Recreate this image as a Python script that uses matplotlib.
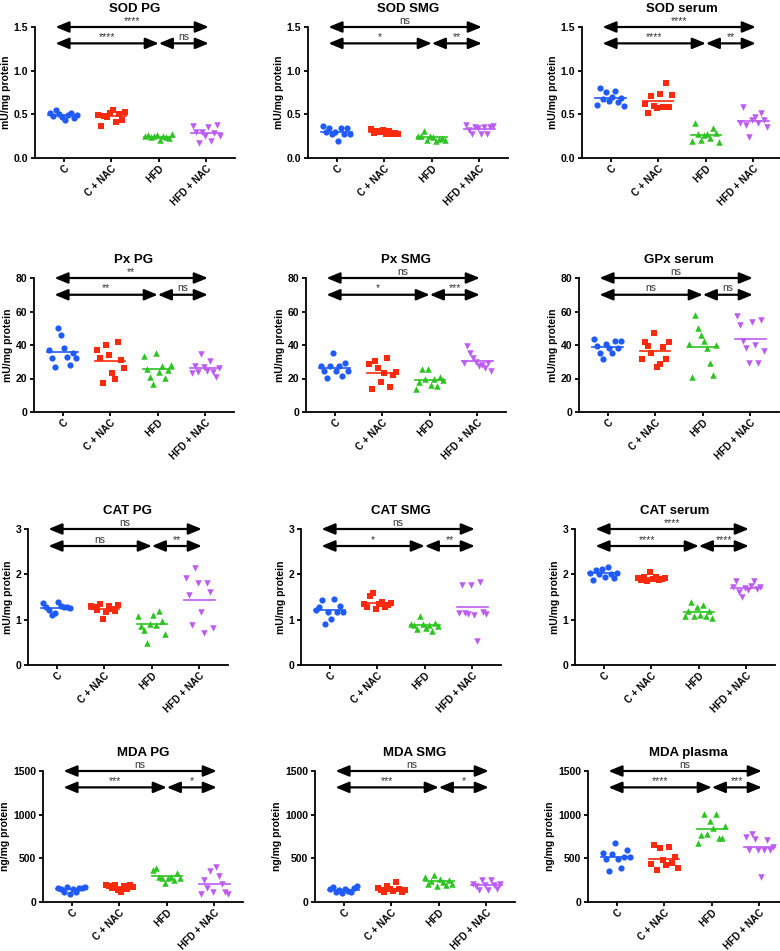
import numpy as np
import matplotlib
matplotlib.use('Agg')
import matplotlib.pyplot as plt

plt.rcParams['font.family'] = ['Liberation Sans', 'DejaVu Sans']

groups = ['C', 'C + NAC', 'HFD', 'HFD + NAC']
colors = ['#1f5bfb', '#fb2a0c', '#2ec422', '#bd5cf2']
markers = ['o', 's', '^', 'v']
msize = [20, 18, 22, 22]

# panel titles, y labels, y limits / ticks
titles = ['SOD PG', 'SOD SMG', 'SOD serum',
          'Px PG', 'Px SMG', 'GPx serum',
          'CAT PG', 'CAT SMG', 'CAT serum',
          'MDA PG', 'MDA SMG', 'MDA plasma']
ylab_row = ['mU/mg protein', 'mU/mg protein', 'mU/mg protein', 'ng/mg protein']
ymax_row = [1.5, 80, 3, 1500]
yticks_row = [[0.0, 0.5, 1.0, 1.5], [0, 20, 40, 60, 80], [0, 1, 2, 3], [0, 500, 1000, 1500]]
yfmt_row = ['{:.1f}', '{:.0f}', '{:.0f}', '{:.0f}']

# significance: [top (C vs HFD+NAC), C vs HFD, HFD vs HFD+NAC]
sig = [['****', '****', 'ns'], ['ns', '*', '**'], ['****', '****', '**'],
       ['**', '**', 'ns'], ['ns', '*', '***'], ['ns', 'ns', 'ns'],
       ['ns', 'ns', '**'], ['ns', '*', '**'], ['****', '****', '****'],
       ['ns', '***', '*'], ['ns', '***', '*'], ['ns', '****', '***']]

# values per panel, per group
sod_pg = [[0.52, 0.48, 0.55, 0.50, 0.47, 0.44, 0.49, 0.51, 0.46, 0.49],
          [0.49, 0.37, 0.48, 0.47, 0.52, 0.55, 0.41, 0.50, 0.44, 0.53],
          [0.25, 0.26, 0.24, 0.25, 0.26, 0.21, 0.25, 0.24, 0.23, 0.27],
          [0.37, 0.30, 0.17, 0.30, 0.25, 0.36, 0.20, 0.29, 0.38, 0.25]]
sod_smg = [[0.37, 0.30, 0.34, 0.27, 0.30, 0.19, 0.34, 0.27, 0.34, 0.28],
           [0.33, 0.29, 0.31, 0.30, 0.32, 0.27, 0.31, 0.28, 0.29, 0.27],
           [0.25, 0.25, 0.31, 0.21, 0.25, 0.24, 0.19, 0.22, 0.23, 0.21],
           [0.38, 0.32, 0.27, 0.36, 0.34, 0.27, 0.35, 0.28, 0.36, 0.37]]
sod_serum = [[0.61, 0.80, 0.68, 0.76, 0.65, 0.70, 0.77, 0.64, 0.69, 0.59],
             [0.62, 0.51, 0.71, 0.59, 0.57, 0.73, 0.58, 0.86, 0.58, 0.72],
             [0.19, 0.40, 0.27, 0.21, 0.26, 0.28, 0.23, 0.34, 0.29, 0.18],
             [0.40, 0.58, 0.38, 0.24, 0.43, 0.47, 0.40, 0.52, 0.43, 0.36]]
px_pg = [[37, 32, 27, 50, 46, 38, 33, 28, 35, 32],
         [37, 32, 17.5, 40, 34, 23.5, 20, 42, 31, 26.5],
         [33.5, 25.5, 21, 17, 35.5, 24, 27.5, 20.5, 25, 28],
         [23, 27.5, 24, 34.5, 27, 24.5, 30.5, 24, 21, 26]]
px_smg = [[27.5, 24.5, 20.5, 27.5, 35.5, 24.5, 27.5, 21.5, 29.5, 24.5],
          [28.5, 13.5, 30.5, 26, 18, 23, 32.5, 15, 22, 24],
          [13.5, 18, 25.5, 19.5, 25.5, 16, 19.5, 15.5, 21, 19],
          [29.5, 39.5, 35.5, 32, 30, 27.5, 28, 26.5, 29, 24.5]]
gpx_serum = [[43.5, 39.5, 35.5, 31.5, 40.5, 38, 35.5, 42.5, 38, 42.5],
             [31.5, 42, 39.5, 35.5, 47, 27, 28.5, 39, 31.5, 41.5],
             [40.5, 21, 58, 50, 46, 42.5, 38.5, 29.5, 22, 40],
             [57.5, 52, 42.5, 38.5, 29, 53.5, 40, 29.5, 55, 36.5]]
cat_pg = [[1.36, 1.27, 1.22, 1.10, 1.14, 1.38, 1.31, 1.27, 1.29, 1.25],
          [1.30, 1.27, 1.22, 1.35, 1.01, 1.17, 1.30, 1.24, 1.20, 1.32],
          [1.08, 0.85, 0.78, 0.48, 0.90, 1.11, 0.89, 1.20, 0.98, 0.68],
          [1.92, 1.55, 0.88, 2.14, 1.80, 1.18, 0.70, 1.80, 1.60, 0.81]]
cat_smg = [[1.22, 1.27, 1.44, 0.91, 1.16, 1.01, 1.45, 1.18, 1.30, 1.17],
           [1.35, 1.28, 1.52, 1.58, 1.23, 1.35, 1.40, 1.28, 1.32, 1.37],
           [0.90, 0.88, 0.80, 1.08, 0.90, 0.82, 0.88, 0.76, 0.92, 0.86],
           [1.14, 1.77, 1.14, 1.13, 1.77, 1.10, 0.52, 1.84, 1.16, 1.12]]
cat_serum = [[2.02, 1.88, 2.10, 2.00, 2.12, 1.95, 2.17, 2.00, 1.93, 2.03],
             [1.92, 1.88, 1.95, 1.85, 2.05, 1.90, 1.95, 1.88, 1.90, 1.92],
             [1.08, 1.20, 1.38, 1.07, 1.27, 1.10, 1.33, 1.08, 1.20, 1.03],
             [1.72, 1.85, 1.62, 1.50, 1.70, 1.65, 1.75, 1.85, 1.68, 1.72]]
mda_pg = [[165, 150, 120, 172, 90, 150, 110, 165, 160, 172],
          [190, 180, 160, 200, 140, 110, 180, 150, 200, 175],
          [370, 385, 290, 270, 220, 280, 290, 250, 330, 280],
          [95, 250, 160, 355, 115, 400, 295, 205, 115, 95]]
mda_smg = [[150, 170, 120, 140, 100, 150, 130, 110, 160, 180],
           [160, 140, 120, 180, 150, 130, 230, 150, 110, 140],
           [290, 210, 240, 310, 180, 260, 230, 200, 250, 210],
           [210, 180, 140, 250, 190, 140, 250, 200, 150, 210]]
mda_plasma = [[560, 495, 360, 550, 670, 495, 395, 510, 600, 510],
              [440, 655, 370, 615, 480, 420, 625, 450, 510, 390],
              [680, 770, 1010, 775, 930, 850, 1010, 730, 735, 870],
              [745, 590, 775, 725, 590, 290, 590, 715, 600, 625]]

panels = [sod_pg, sod_smg, sod_serum, px_pg, px_smg, gpx_serum,
          cat_pg, cat_smg, cat_serum, mda_pg, mda_smg, mda_plasma]

W, H = 780, 951
fig = plt.figure(figsize=(W / 100, H / 100), dpi=100)

# axes placement in pixels: left spine x per panel, top/bottom y per row
lefts = [[35, 308, 582], [34, 306, 579], [28, 301, 575], [43, 315, 588]]
tops = [27, 278, 529, 771]
bottoms = [158, 412, 665, 902]
axw = 200

for i, data in enumerate(panels):
    r, c = divmod(i, 3)
    l = lefts[r][c]
    ax = fig.add_axes([l / W, (H - bottoms[r]) / H, axw / W, (bottoms[r] - tops[r]) / H])
    ymax = ymax_row[r]

    for g, vals in enumerate(data):
        vals = np.array(vals)
        offs = np.linspace(-0.28, 0.28, len(vals))
        ax.scatter(g + offs, vals, s=msize[g], marker=markers[g], color=colors[g],
                   linewidths=0, zorder=3, clip_on=False)
        ax.plot([g - 0.32, g + 0.32], [vals.mean()] * 2, color=colors[g], lw=1.2, zorder=2)

    # significance arrows
    y_top = ymax
    y_low = ymax * 0.875
    ap = dict(arrowstyle='<|-|>,head_length=0.8,head_width=0.33', lw=1.6,
              color='black', shrinkA=0, shrinkB=0)
    for (x0, x1, y, txt) in [(-0.17, 3.05, y_top, sig[i][0]),
                             (-0.17, 2.0, y_low, sig[i][1]),
                             (2.0, 3.05, y_low, sig[i][2])]:
        ax.annotate('', xy=(x1, y), xytext=(x0, y), arrowprops=ap, annotation_clip=False)
        ax.annotate(txt, xy=((x0 + x1) / 2, y), xytext=(0, 1), textcoords='offset points',
                    ha='center', va='bottom', fontsize=7.5, color='#333333',
                    annotation_clip=False)

    ax.set_xlim(-0.6, 3.6)
    ax.set_ylim(0, ymax)
    ax.set_yticks(yticks_row[r])
    ax.set_yticklabels([yfmt_row[r].format(t) for t in yticks_row[r]], fontweight='bold', fontsize=7.5)
    ax.set_xticks(range(4))
    ax.set_xticklabels(groups, rotation=45, ha='right', rotation_mode='anchor',
                       fontweight='bold', fontsize=7)
    ax.set_ylabel(ylab_row[r], fontweight='bold', fontsize=7.5, labelpad=2)
    ax.set_title(titles[i], fontweight='bold', fontsize=9.5, pad=11)
    for s in ['top', 'right']:
        ax.spines[s].set_visible(False)
    for s in ['left', 'bottom']:
        ax.spines[s].set_linewidth(1.3)
    ax.tick_params(width=1.3, length=3, pad=2)
    ax.tick_params(axis='x', pad=1)

fig.savefig('out.png', dpi=100)
